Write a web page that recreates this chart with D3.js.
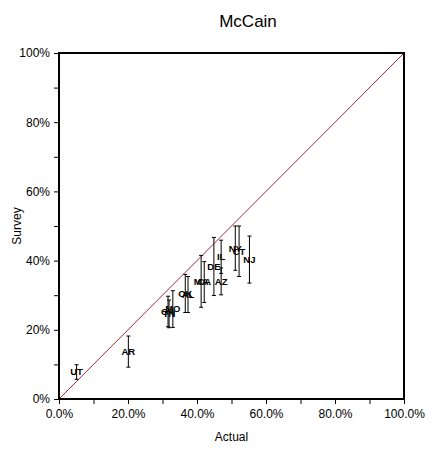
<!DOCTYPE html>
<html lang="en">

<head>
  <meta charset="UTF-8">
  <title>McCain</title>
  <script src="https://cdn.jsdelivr.net/npm/d3@7"></script>
</head>
<style>
  body { margin: 0; background: #fff; }
  text { font-family: "Liberation Sans", Arial, sans-serif; }
</style>

<body>
  <svg width="433" height="454"></svg>
</body>
<script>

  const svg = d3.select("svg");
  const width = +svg.attr('width');
  const height = +svg.attr('height');

  const margin = { top: 53, right: 29, bottom: 55, left: 59 }
  const innerWidth = width - margin.left - margin.right;
  const innerHeight = height - margin.top - margin.bottom;

  // 2008 super tuesday, McCain share: actual result vs survey (with error)
  const states = ['UT', 'AR', 'GA', 'TN', 'MO', 'OK', 'AL', 'MA', 'CA', 'DE', 'IL', 'AZ', 'NY', 'CT', 'NJ'];
  const actual = [0.051, 0.201, 0.316, 0.319, 0.330, 0.366, 0.374, 0.412, 0.421, 0.449, 0.470, 0.470, 0.511, 0.522, 0.552];
  const survey = [0.078, 0.137, 0.253, 0.246, 0.260, 0.305, 0.302, 0.340, 0.338, 0.383, 0.411, 0.340, 0.436, 0.427, 0.403];
  const errs = [0.021, 0.045, 0.044, 0.040, 0.053, 0.055, 0.052, 0.075, 0.059, 0.084, 0.048, 0.039, 0.064, 0.073, 0.068];

  const tickVals = d3.range(0, 11).map(d => d / 10);
  const majorVals = [0, 0.2, 0.4, 0.6, 0.8, 1];

  const data = states.map((s, i) => ({ state: s, x: actual[i], y: survey[i], e: errs[i] }));

  const xScale = d3.scaleLinear().domain([0, 1]).range([0, innerWidth]);
  const yScale = d3.scaleLinear().domain([0, 1]).range([innerHeight, 0]);

  const maingroup = svg.append("g")
    .attr("transform", `translate(${margin.left},${margin.top})`);

  // x轴
  const xAxis = maingroup.append('g')
    .attr('transform', `translate(0,${innerHeight})`)
    .call(d3.axisBottom(xScale).tickValues(tickVals).tickSize(5).tickSizeOuter(0)
      .tickFormat(d => majorVals.some(m => Math.abs(m - d) < 1e-9) ? d3.format('.1%')(d) : ''));

  // y轴
  const yAxis = maingroup.append('g')
    .call(d3.axisLeft(yScale).tickValues(tickVals).tickSize(5).tickSizeOuter(0)
      .tickFormat(d => majorVals.some(m => Math.abs(m - d) < 1e-9) ? d3.format('.0%')(d) : ''));

  [xAxis, yAxis].forEach(a => {
    a.select('.domain').remove();
    a.selectAll('.tick line').attr('stroke', '#000').attr('stroke-width', 1);
    a.selectAll('.tick text').attr('fill', '#000').attr('font-size', '12px')
      .attr('font-family', '"Liberation Sans", Arial, sans-serif');
  });
  xAxis.selectAll('.tick text').attr('dy', '0.95em');
  yAxis.selectAll('.tick text').attr('x', -9);

  // 对角线
  maingroup.append('line')
    .attr('x1', xScale(0)).attr('y1', yScale(0))
    .attr('x2', xScale(1)).attr('y2', yScale(1))
    .attr('stroke', '#a82a3c')
    .attr('stroke-width', 1);

  // 边框
  maingroup.append('rect')
    .attr('width', innerWidth)
    .attr('height', innerHeight)
    .attr('fill', 'none')
    .attr('stroke', '#000')
    .attr('stroke-width', 2);

  // 误差线
  const bars = maingroup.append('g').selectAll('g')
    .data(data)
    .join('g')
    .attr('stroke', '#000')
    .attr('stroke-width', 1);

  bars.append('line')
    .attr('x1', d => xScale(d.x)).attr('x2', d => xScale(d.x))
    .attr('y1', d => yScale(d.y - d.e)).attr('y2', d => yScale(d.y + d.e));
  bars.append('line')
    .attr('x1', d => xScale(d.x) - 2).attr('x2', d => xScale(d.x) + 2)
    .attr('y1', d => yScale(d.y + d.e)).attr('y2', d => yScale(d.y + d.e));
  bars.append('line')
    .attr('x1', d => xScale(d.x) - 2).attr('x2', d => xScale(d.x) + 2)
    .attr('y1', d => yScale(d.y - d.e)).attr('y2', d => yScale(d.y - d.e));

  // 州名
  maingroup.append('g').selectAll('text')
    .data(data)
    .join('text')
    .attr('x', d => xScale(d.x))
    .attr('y', d => yScale(d.y))
    .attr('dy', '0.36em')
    .attr('text-anchor', 'middle')
    .attr('font-size', '9.5px')
    .attr('font-weight', 'bold')
    .attr('fill', '#000')
    .text(d => d.state);

  // 标题
  svg.append('text')
    .attr('x', 248).attr('y', 27)
    .attr('text-anchor', 'middle')
    .attr('font-size', '17px')
    .text('McCain');

  svg.append('text')
    .attr('x', margin.left + innerWidth / 2).attr('y', 441)
    .attr('text-anchor', 'middle')
    .attr('font-size', '12px')
    .text('Actual');

  svg.append('text')
    .attr('transform', `translate(21,${margin.top + innerHeight / 2}) rotate(-90)`)
    .attr('text-anchor', 'middle')
    .attr('font-size', '12px')
    .text('Survey');

</script>

</html>
